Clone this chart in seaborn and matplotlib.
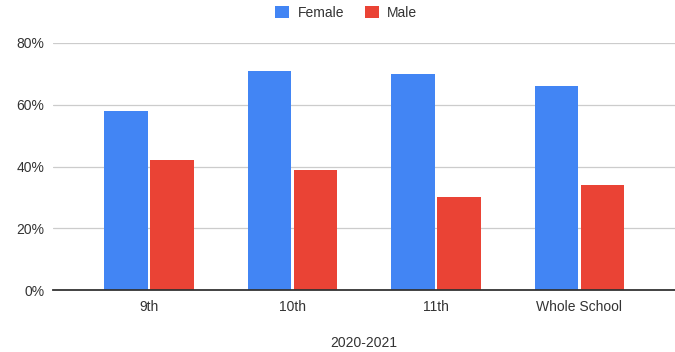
import matplotlib
matplotlib.use("Agg")
import matplotlib.pyplot as plt
import seaborn as sns
import pandas as pd
from matplotlib.ticker import FuncFormatter

# Share of students by gender, per grade
categories = ["9th", "10th", "11th", "Whole School"]
female = [58, 71, 70, 66]
male = [42, 39, 30, 34]
series_names = ["Female", "Male"]
y_ticks = [0, 20, 40, 60, 80]
x_title = "2020-2021"

df = pd.DataFrame({
    "Category": categories * 2,
    "Gender": ["Female"] * len(categories) + ["Male"] * len(categories),
    "Value": female + male,
})

sns.set_theme(style="white")
plt.rcParams["font.family"] = ["Liberation Sans", "DejaVu Sans"]
text_color = "#333333"
fs = 10

fig = plt.figure(figsize=(6.75, 3.52), dpi=100)
ax = fig.add_axes([52.7 / 675, 61.7 / 352, (675 - 52.7) / 675, 247.6 / 352])

sns.barplot(
    data=df, x="Category", y="Value", hue="Gender",
    hue_order=series_names, order=categories,
    palette={"Female": "#4285F4", "Male": "#EA4335"},
    width=0.64, gap=0.05, ax=ax, linewidth=0, saturation=1,
)

ax.set_xlim(-0.671, 3.666)
ax.set_ylim(0, 80)
ax.set_yticks(y_ticks)
ax.yaxis.set_major_formatter(FuncFormatter(lambda v, _: f"{int(v)}%"))
ax.set_axisbelow(True)
ax.grid(axis="y", color="#cccccc", linewidth=0.9)
ax.grid(axis="x", visible=False)
for side in ["top", "right", "left"]:
    ax.spines[side].set_visible(False)
ax.spines["bottom"].set_color("#333333")
ax.spines["bottom"].set_linewidth(1.3)
ax.tick_params(axis="both", length=0, labelsize=fs, colors=text_color)
ax.tick_params(axis="y", pad=6)
ax.tick_params(axis="x", pad=7)
ax.set_ylabel("")
ax.set_xlabel(x_title, fontsize=fs, color=text_color, labelpad=16)

handles, labels = ax.get_legend_handles_labels()
ax.get_legend().remove()
fig.legend(
    handles, labels, loc="center", bbox_to_anchor=(0.513, 0.963),
    ncol=2, frameon=False, fontsize=fs, labelcolor=text_color,
    handlelength=1.0, handleheight=1.0, handletextpad=0.6, columnspacing=1.5,
)

fig.savefig("out.png", dpi=100, facecolor="white")
